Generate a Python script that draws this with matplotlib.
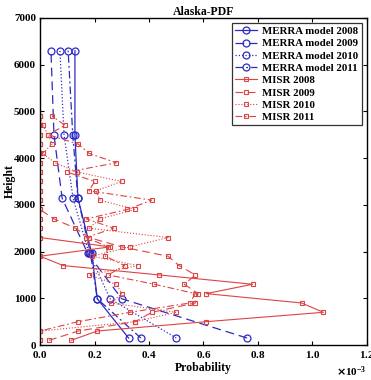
import matplotlib
matplotlib.use('Agg')
import matplotlib.pyplot as plt
from matplotlib.ticker import ScalarFormatter

# MERRA model levels (m) and PDF values (x 1e-3)
merra_height = [150, 990, 1960, 3140, 4500, 6300]
merra_2008 = [0.325, 0.21, 0.19, 0.139, 0.128, 0.128]
merra_2009 = [0.76, 0.30, 0.175, 0.081, 0.051, 0.040]
merra_2010 = [0.50, 0.257, 0.18, 0.121, 0.088, 0.073]
merra_2011 = [0.37, 0.21, 0.185, 0.139, 0.12, 0.103]

# MISR height bins (m)
misr_height = [100, 300, 500, 700, 900, 1100, 1300, 1500, 1700, 1900,
               2100, 2300, 2500, 2700, 2900, 3100, 3300, 3500, 3700, 3900,
               4100, 4300, 4500, 4700, 4900]
misr_2008 = [0.114, 0.21, 0.61, 1.04, 0.96, 0.61, 0.78, 0.437, 0.085, 0.0,
             0.257, 0.0, 0.0, 0.0, 0.0, 0.0, 0.0, 0.0, 0.0, 0.0,
             0.0, 0.0, 0.0, 0.0, 0.0]
misr_2009 = [0.033, 0.14, 0.35, 0.41, 0.57, 0.58, 0.53, 0.57, 0.51, 0.47,
             0.30, 0.18, 0.13, 0.05, 0.0, 0.0, 0.0, 0.0, 0.0, 0.0,
             0.0, 0.0, 0.0, 0.0, 0.0]
misr_2010 = [0.0, 0.0, 0.35, 0.50, 0.26, 0.30, 0.28, 0.18, 0.36, 0.19,
             0.33, 0.47, 0.18, 0.22, 0.35, 0.22, 0.205, 0.30, 0.136, 0.055,
             0.01, 0.044, 0.03, 0.01, 0.0]
misr_2011 = [0.0, 0.0, 0.14, 0.33, 0.55, 0.57, 0.42, 0.25, 0.31, 0.24,
             0.25, 0.17, 0.27, 0.17, 0.32, 0.41, 0.18, 0.20, 0.10, 0.28,
             0.18, 0.14, 0.03, 0.092, 0.044]

plt.rcParams['font.family'] = ['Liberation Serif', 'DejaVu Serif']
plt.rcParams['font.weight'] = 'bold'

blue = '#2b2bc4'
red = '#dd4444'

fig = plt.figure(figsize=(3.71, 3.80), dpi=100)
ax = fig.add_axes([0.108, 0.092, 0.881, 0.861])

def scale(vals):
    return [v * 1e-3 for v in vals]

merra = [(merra_2008, '-', 'MERRA model 2008'),
         (merra_2009, (0, (7, 4)), 'MERRA model 2009'),
         (merra_2010, ':', 'MERRA model 2010'),
         (merra_2011, (0, (6, 2.5, 1.5, 2.5)), 'MERRA model 2011')]
for vals, ls, lab in merra:
    ax.plot(scale(vals), merra_height, color=blue, linestyle=ls, lw=0.9,
            marker='o', ms=5, mfc='none', mec=blue, mew=0.9, label=lab)

misr = [(misr_2008, '-', 'MISR 2008'),
        (misr_2009, (0, (7, 4)), 'MISR 2009'),
        (misr_2010, ':', 'MISR 2010'),
        (misr_2011, (0, (6, 2.5, 1.5, 2.5)), 'MISR 2011')]
for vals, ls, lab in misr:
    ax.plot(scale(vals), misr_height, color=red, linestyle=ls, lw=0.8,
            marker='s', ms=3.5, mfc='none', mec=red, mew=0.8, label=lab)

ax.set_xlim(0, 1.2e-3)
ax.set_ylim(0, 7000)
ax.set_xticks([i * 0.2e-3 for i in range(7)])
ax.set_yticks(range(0, 7001, 1000))
fmt = ScalarFormatter(useMathText=True)
fmt.set_powerlimits((-3, -3))
ax.xaxis.set_major_formatter(fmt)
ax.tick_params(direction='in', top=True, right=True, labelsize=8,
               length=3, width=0.8, pad=3)
for lbl in ax.get_xticklabels() + ax.get_yticklabels():
    lbl.set_fontweight('bold')
ax.xaxis.get_offset_text().set_fontsize(8)
for sp in ax.spines.values():
    sp.set_linewidth(1.0)

ax.set_title('Alaska-PDF', fontsize=8.5, fontweight='bold', pad=2)
ax.set_xlabel('Probability', fontsize=8.5, fontweight='bold', labelpad=1)
ax.set_ylabel('Height', fontsize=8.5, fontweight='bold')
ax.yaxis.set_label_coords(-0.074, 0.5)

leg = ax.legend(loc='upper right', fontsize=7.8, frameon=True, fancybox=False,
                edgecolor='black', handlelength=2.0, handletextpad=0.5,
                labelspacing=0.25, borderpad=0.3, borderaxespad=0.5)
leg.get_frame().set_linewidth(0.9)
for t in leg.get_texts():
    t.set_fontweight('bold')

fig.savefig('out.png', dpi=100)
